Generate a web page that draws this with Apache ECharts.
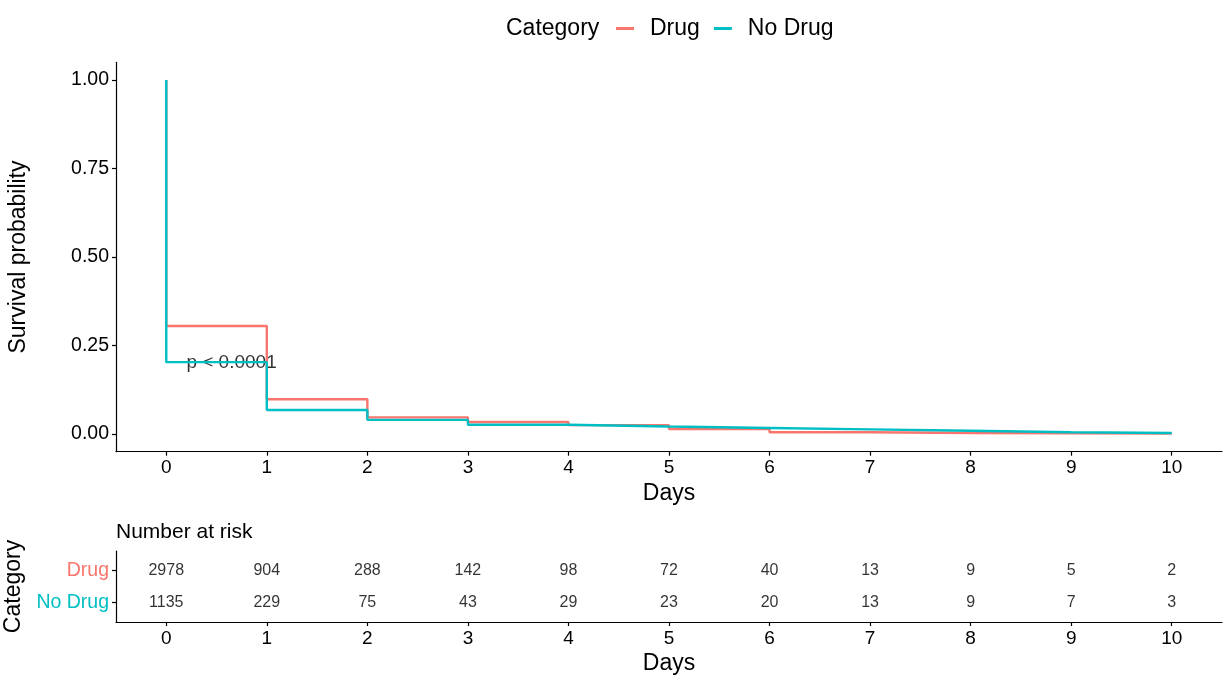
<!DOCTYPE html>
<html><head><meta charset="utf-8">
<script src="https://cdn.jsdelivr.net/npm/echarts@6/dist/echarts.min.js"></script>
<style>html,body{margin:0;padding:0;background:#fff}#c{width:1232px;height:685px}</style>
</head><body><div id="c"></div>
<script>
const days = [0,1,2,3,4,5,6,7,8,9,10];
const categories = ['Drug','No Drug'];
// survival probability after step at each day (index i = value on [i, i+1))
const drugSurv =   [0.305, 0.098, 0.047, 0.034, 0.025, 0.014, 0.005, 0.003, 0.002, 0.001];
const noDrugSurv = [0.203, 0.068, 0.040, 0.026, 0.021, 0.017, 0.013, 0.009, 0.005, 0.003];
const drugRisk =   [2978, 904, 288, 142, 98, 72, 40, 13, 9, 5, 2];
const noDrugRisk = [1135, 229, 75, 43, 29, 23, 20, 13, 9, 7, 3];
const yTicks = [0, 0.25, 0.5, 0.75, 1];
const pText = 'p < 0.0001';
const pPos = [0.2, 0.2];

const RED = '#F8766D', CYAN = '#00BFC4';
const FONT = 'Liberation Sans';

function kmPoints(s){
  const pts = [[0,1]];
  for (let i=0;i<s.length;i++) pts.push([days[i], s[i]]);
  pts.push([days[days.length-1], s[s.length-1]]);
  return pts;
}
// discrete row position: first category on top (ggplot style)
function catPos(cat){ return categories.length - categories.indexOf(cat); }
function riskPoints(arr, cat){ return days.map((d,i)=>[d, catPos(cat), arr[i]]); }
const catTicks = categories.map(catPos);

const axisLine = {show:true, onZero:false, lineStyle:{color:'#000', width:1.2}};
const axisTick = {show:true, length:4, lineStyle:{color:'#000', width:1.2}};

const chart = echarts.init(document.getElementById('c'), null, {renderer:'canvas'});
chart.setOption({
  animation:false,
  textStyle:{fontFamily:FONT},
  title:[
    {text:'Category', left:506, top:17, padding:0, textStyle:{fontSize:23, fontWeight:'normal', color:'#000', fontFamily:FONT}},
    {text:'Number at risk', left:116, top:522, padding:0, textStyle:{fontSize:21, fontWeight:'normal', color:'#000', fontFamily:FONT}}
  ],
  legend:{
    data:categories, left:616, top:17, padding:0, icon:'rect', itemWidth:18, itemHeight:3, itemGap:14,
    textStyle:{fontSize:23, color:'#000', fontFamily:FONT, padding:[0,0,0,11]}
  },
  grid:[
    {left:116, right:10, top:62.3, bottom:233.3, containLabel:false, outerBoundsMode:'none'},
    {left:116, right:10, top:551, bottom:63, containLabel:false, outerBoundsMode:'none'}
  ],
  xAxis:[
    {type:'value', gridIndex:0, min:-0.5, max:10.5, name:'Days', nameLocation:'middle', nameGap:30,
     nameTextStyle:{fontSize:23, color:'#000', fontFamily:FONT},
     axisLine:axisLine, axisTick:Object.assign({customValues:days}, axisTick), splitLine:{show:false},
     axisLabel:{customValues:days, fontSize:19, color:'#000', margin:7, fontFamily:FONT}},
    {type:'value', gridIndex:1, min:-0.5, max:10.5, name:'Days', nameLocation:'middle', nameGap:30,
     nameTextStyle:{fontSize:23, color:'#000', fontFamily:FONT},
     axisLine:axisLine, axisTick:Object.assign({customValues:days}, axisTick), splitLine:{show:false},
     axisLabel:{customValues:days, fontSize:19, color:'#000', margin:7, fontFamily:FONT}}
  ],
  yAxis:[
    {type:'value', gridIndex:0, min:-0.05, max:1.05, name:'Survival probability', nameLocation:'middle', nameGap:86,
     nameTextStyle:{fontSize:23, color:'#000', fontFamily:FONT},
     axisLine:axisLine, axisTick:Object.assign({customValues:yTicks}, axisTick), splitLine:{show:false},
     axisLabel:{customValues:yTicks, fontSize:19.5, color:'#000', margin:7, fontFamily:FONT, formatter:v=>v.toFixed(2)}},
    {type:'value', gridIndex:1, min:0.4, max:2.6, name:'Category', nameLocation:'middle', nameGap:86,
     nameTextStyle:{fontSize:23, color:'#000', fontFamily:FONT},
     axisLine:axisLine, axisTick:Object.assign({customValues:catTicks}, axisTick), splitLine:{show:false},
     axisLabel:{customValues:catTicks, fontSize:19.5, margin:7, fontFamily:FONT,
       formatter:v=>categories[categories.length - Math.round(v)],
       color:(v)=> Math.round(v)===catPos('Drug')?RED:CYAN}}
  ],
  series:[
    {name:'Drug', type:'line', xAxisIndex:0, yAxisIndex:0, step:'end', data:kmPoints(drugSurv),
     showSymbol:false, symbol:'none', lineStyle:{color:RED, width:2.4}, itemStyle:{color:RED}},
    {name:'No Drug', type:'line', xAxisIndex:0, yAxisIndex:0, step:'end', data:kmPoints(noDrugSurv),
     showSymbol:false, symbol:'none', lineStyle:{color:CYAN, width:2.4}, itemStyle:{color:CYAN}},
    {name:'pval', type:'scatter', xAxisIndex:0, yAxisIndex:0, data:[pPos], symbolSize:0, silent:true,
     label:{show:true, position:'right', distance:0, formatter:pText, fontSize:19, color:'#000', fontFamily:FONT}},
    {name:'riskDrug', type:'scatter', xAxisIndex:1, yAxisIndex:1, data:riskPoints(drugRisk,'Drug'), symbolSize:0, silent:true,
     label:{show:true, position:'inside', formatter:p=>String(p.value[2]), fontSize:16, color:'#000', fontFamily:FONT}},
    {name:'riskNoDrug', type:'scatter', xAxisIndex:1, yAxisIndex:1, data:riskPoints(noDrugRisk,'No Drug'), symbolSize:0, silent:true,
     label:{show:true, position:'inside', formatter:p=>String(p.value[2]), fontSize:16, color:'#000', fontFamily:FONT}}
  ]
});
</script></body></html>
